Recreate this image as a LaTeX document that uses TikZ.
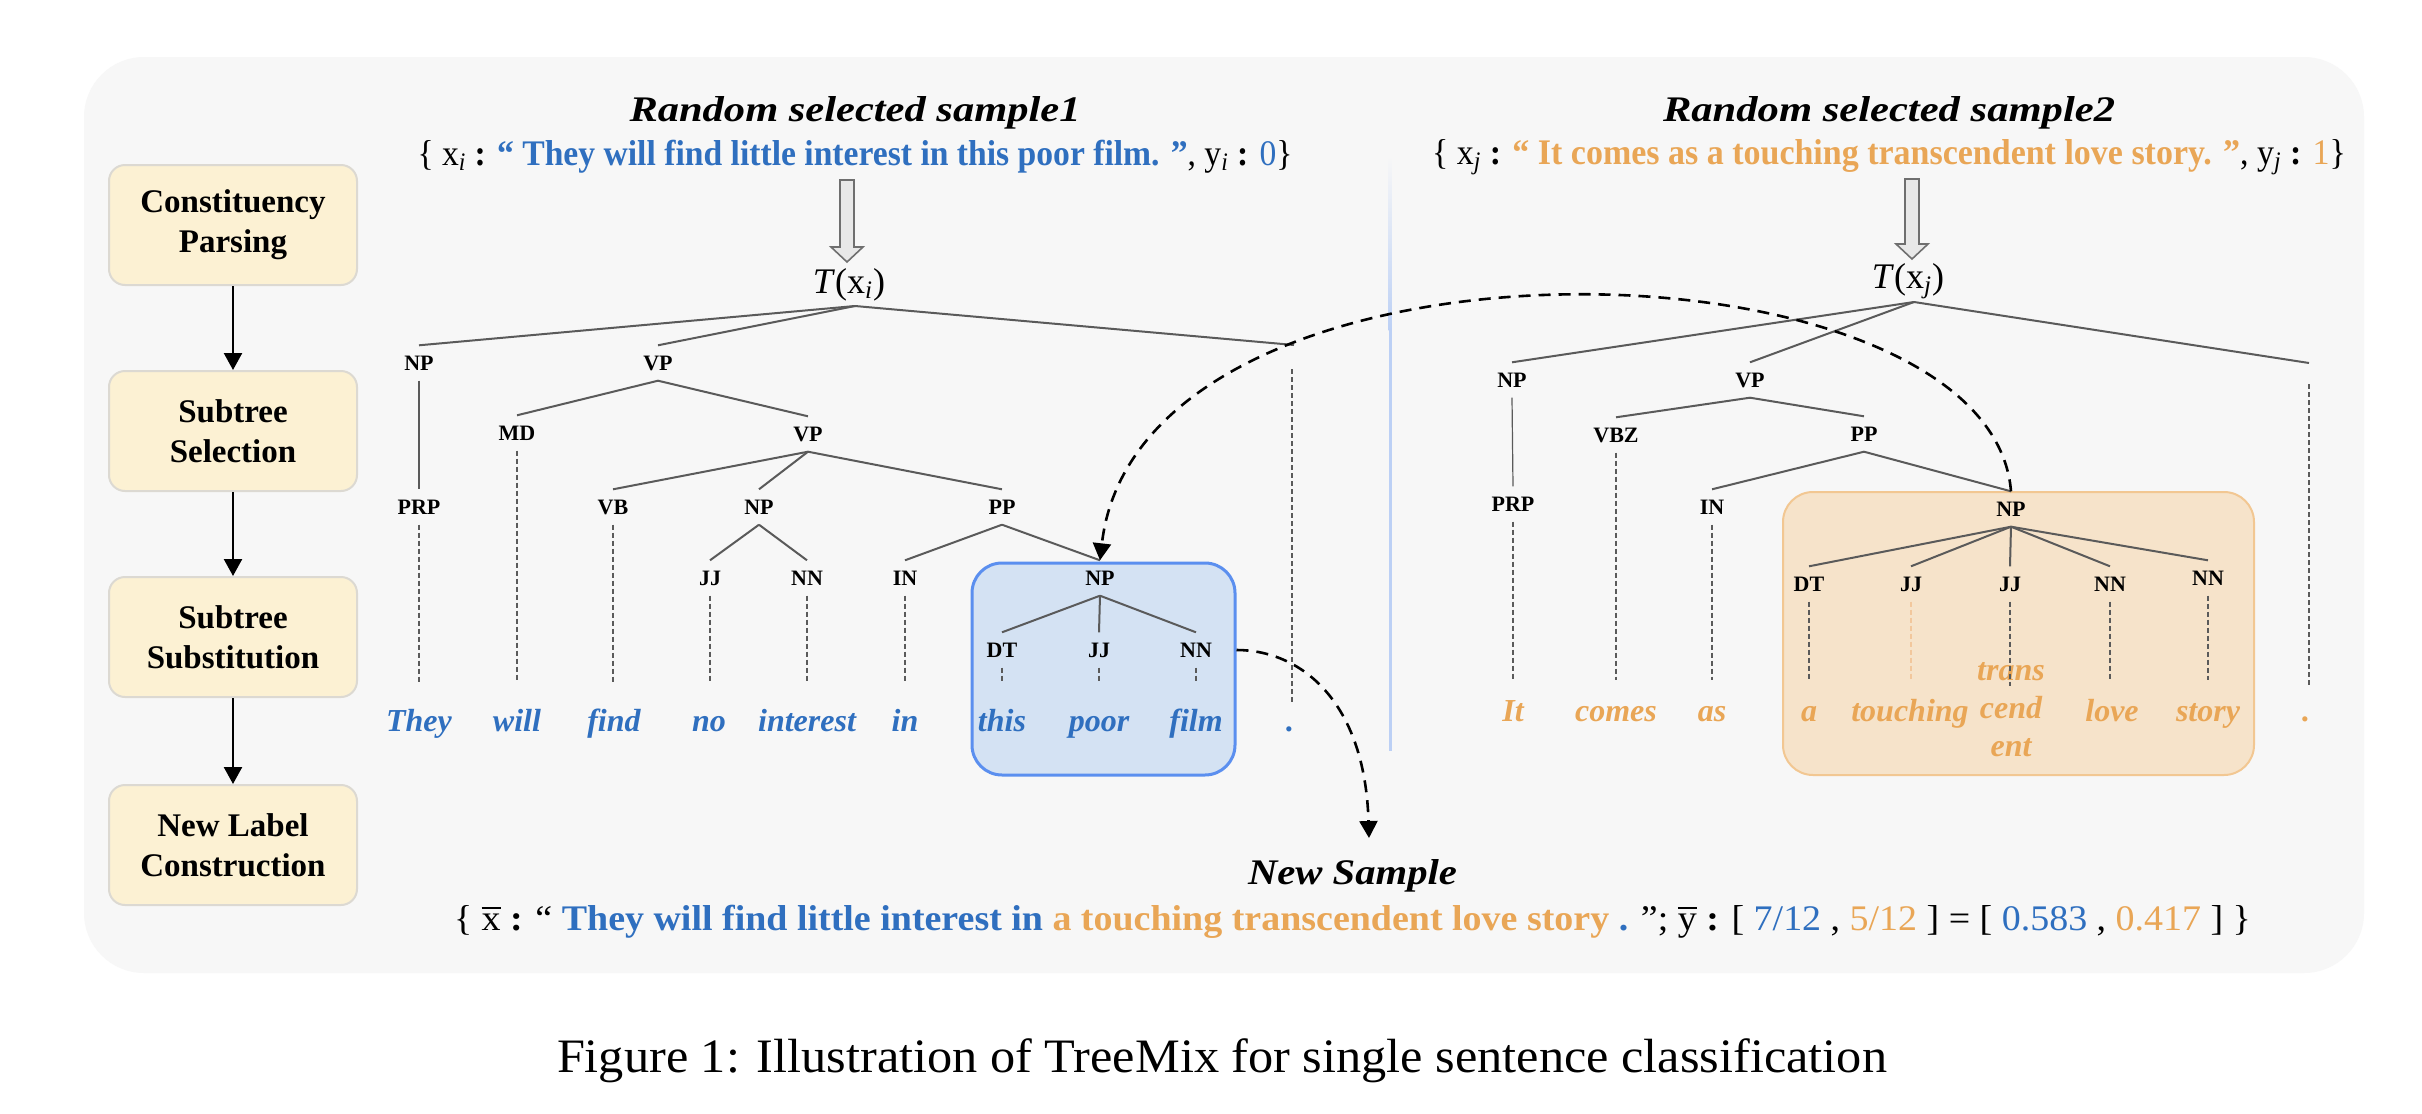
\documentclass[tikz,border=0pt]{standalone}
\usepackage{fontspec}
\setmainfont{Liberation Serif}
\usetikzlibrary{arrows.meta}
\definecolor{bgc}{HTML}{F7F7F7}
\definecolor{boxfill}{HTML}{FCF1D3}
\definecolor{boxbd}{HTML}{DCD9D2}
\definecolor{bluec}{HTML}{2F6FBF}
\definecolor{orangec}{HTML}{E9A656}
\definecolor{bboxfill}{HTML}{D4E2F3}
\definecolor{bboxbd}{HTML}{5B8FEF}
\definecolor{oboxfill}{HTML}{F6E3CA}
\definecolor{oboxbd}{HTML}{F2C792}
\definecolor{treec}{HTML}{5A5A5A}
\definecolor{divc}{HTML}{BCD0F5}
\definecolor{faintor}{HTML}{F2C79C}
\definecolor{harfill}{HTML}{E8E8E8}
\definecolor{hardraw}{HTML}{6F6F6F}
\newlength\fitlen
\newcommand{\fitw}[2]{\settowidth{\fitlen}{#2}\pgfmathsetmacro\fitfac{#1/\fitlen}\scalebox{\fitfac}[1]{#2}}
\newcommand{\barc}[1]{\setbox0\hbox{#1}\vbox{\hrule height 0.055em width \wd0\kern 0.12em\box0}}
\tikzset{
  stepbox/.style={draw=boxbd, fill=boxfill, line width=1pt, rounded corners=8pt,
    minimum width=124pt, minimum height=60pt, inner sep=0pt, align=center,
    font=\fontsize{16.5}{20}\selectfont\bfseries},
  flow/.style={draw=black, line width=1.2pt, -{Triangle[length=8.5pt,width=9pt]}},
  ttl/.style={anchor=base, inner sep=0pt, font=\fontsize{18}{21}\selectfont\bfseries\itshape},
  smp/.style={anchor=base, inner sep=0pt, font=\fontsize{18}{21}\selectfont},
  lbl/.style={font=\fontsize{11}{13}\selectfont\bfseries, text height=7.3pt, text depth=0pt,
    inner xsep=1pt, inner ysep=5pt, anchor=center},
  wone/.style={font=\fontsize{16}{19.2}\selectfont\bfseries\itshape, text=bluec, anchor=base,
    text height=11pt, text depth=0pt, inner ysep=13pt, inner xsep=0pt},
  wtwo/.style={wone, text=orangec, inner ysep=9.5pt},
  dotone/.style={wone, text height=3pt, inner ysep=11pt},
  dottwo/.style={wtwo, text height=3pt, inner ysep=14.5pt},
  tline/.style={draw=treec, line width=1pt},
  tthin/.style={draw=treec, line width=0.6pt},
  dline/.style={draw=treec, line width=0.75pt, dash pattern=on 2.5pt off 1.5pt},
  dfaint/.style={dline, draw=faintor},
  dcurve/.style={draw=black, line width=1.3pt, dash pattern=on 6pt off 4pt,
    -{Triangle[length=8.5pt,width=9pt]}},
  harrow/.style={draw=hardraw, fill=harfill, line width=0.8pt, line join=miter},
  bbox/.style={draw=bboxbd, fill=bboxfill, line width=1.5pt, rounded corners=15pt,
    minimum width=131.5pt, minimum height=106pt, inner sep=0pt},
  obox/.style={draw=oboxbd, fill=oboxfill, line width=1pt, rounded corners=15pt,
    minimum width=235.5pt, minimum height=141.5pt, inner sep=0pt},
}
\begin{document}
\begin{tikzpicture}[x=0.5pt,y=-0.5pt]
\useasboundingbox (0,0) rectangle (2422,1114);
\fill[white] (0,0) rectangle (2422,1114);
\fill[bgc, rounded corners=30pt] (84,57) rectangle (2364,973);

% divider
\shade[top color=bgc, bottom color=divc] (1388.5,156) rectangle (1391.5,330);
\fill[divc] (1388.5,330) rectangle (1391.5,751);

% left pipeline
\node[stepbox] (s1) at (233,225) {Constituency\\Parsing};
\node[stepbox] (s2) at (233,431) {Subtree\\Selection};
\node[stepbox] (s3) at (233,637) {Subtree\\Substitution};
\node[stepbox] (s4) at (233,845) {New Label\\Construction};
\draw[flow] (s1) -- (s2);
\draw[flow] (s2) -- (s3);
\draw[flow] (s3) -- (s4);

% highlight boxes
\node[bbox] (bluebox) at (1103.5,669) {};
\node[obox] (orbox) at (2018.5,633.5) {};

% titles and samples
\node[ttl] (ti1) at (855,121) {\fitw{225.5pt}{Random selected sample1}};
\node[smp] (x1) at (855,165) {\fitw{437.5pt}{\{ x\textsubscript{\textit{i}} \textbf{:} \textcolor{bluec}{\textbf{“ They will find little interest in this poor film. ”}}, y\textsubscript{\textit{i}} \textbf{:} \textcolor{bluec}{0}\}}};
\node[ttl] (ti2) at (1889,121) {\fitw{226pt}{Random selected sample2}};
\node[smp] (x2) at (1889,164) {\fitw{457pt}{\{ x\textsubscript{\textit{j}} \textbf{:} \textcolor{orangec}{\textbf{“ It comes as a touching transcendent love story. ”}}, y\textsubscript{\textit{j}} \textbf{:} \textcolor{orangec}{1}\}}};

% hollow arrows
\draw[harrow] (840,180) -- (854,180) -- (854,247) -- (863,247) -- (847,262) -- (831,247) -- (840,247) -- cycle;
\draw[harrow] (1905,179) -- (1919,179) -- (1919,244) -- (1928,244) -- (1912,259) -- (1896,244) -- (1905,244) -- cycle;

\node[smp] (T1) at (849,293) {\textit{T}(x\textsubscript{\textit{i}})};
\node[smp] (T2) at (1908,288) {\textit{T}(x\textsubscript{\textit{j}})};

% ---------- tree 1
\coordinate (r1) at (855,306);
\coordinate (d1a) at (1294,345);
\coordinate (d1b) at (1292,369);
\node[lbl] (a1) at (419,363) {NP};
\node[lbl] (a2) at (658,363) {VP};
\node[lbl] (a3) at (517,433) {MD};
\node[lbl] (a4) at (808,434) {VP};
\node[lbl] (a5) at (419,507) {PRP};
\node[lbl] (a6) at (613,507) {VB};
\node[lbl] (a7) at (759,507) {NP};
\node[lbl] (a8) at (1002,507) {PP};
\node[lbl] (a9) at (710,578) {JJ};
\node[lbl] (a10) at (807,578) {NN};
\node[lbl] (a11) at (905,578) {IN};
\node[lbl] (a12) at (1100,578) {NP};
\node[lbl] (a13) at (1002,650) {DT};
\node[lbl] (a14) at (1099,650) {JJ};
\node[lbl] (a15) at (1196,650) {NN};

\node[wone] (w1) at (419,731) {They};
\node[wone] (w2) at (517,731) {will};
\node[wone] (w3) at (614,731) {find};
\node[wone] (w4) at (709,731) {no};
\node[wone] (w5) at (807,731) {interest};
\node[wone] (w6) at (905,731) {in};
\node[wone] (w7) at (1002,731) {this};
\node[wone] (w8) at (1099,731) {poor};
\node[wone] (w9) at (1196,731) {film};
\node[dotone] (w10) at (1290,731) {.};

\draw[tline] (r1) -- (a1.north);
\draw[tline] (r1) -- (a2.north);
\draw[tline] (r1) -- (d1a);
\draw[tthin] (a1.south) -- (a5.north);
\draw[tline] (a2.south) -- (a3.north);
\draw[tline] (a2.south) -- (a4.north);
\draw[tline] (a4.south) -- (a6.north);
\draw[tline] (a4.south) -- (a7.north);
\draw[tline] (a4.south) -- (a8.north);
\draw[tline] (a7.south) -- (a9.north);
\draw[tline] (a7.south) -- (a10.north);
\draw[tline] (a8.south) -- (a11.north);
\draw[tline] (a8.south) -- (a12.north);
\draw[tline] (a12.south) -- (a13.north);
\draw[tline] (a12.south) -- (a14.north);
\draw[tline] (a12.south) -- (a15.north);
\draw[dline] (a5.south) -- (a5.south |- w1.north);
\draw[dline] (a3.south) -- (a3.south |- w2.north);
\draw[dline] (a6.south) -- (a6.south |- w3.north);
\draw[dline] (a9.south) -- (a9.south |- w4.north);
\draw[dline] (a10.south) -- (a10.south |- w5.north);
\draw[dline] (a11.south) -- (a11.south |- w6.north);
\draw[dline] (a13.south) -- (a13.south |- w7.north);
\draw[dline] (a14.south) -- (a14.south |- w8.north);
\draw[dline] (a15.south) -- (a15.south |- w9.north);
\draw[dline] (d1b) -- (d1b |- w10.north);

% ---------- tree 2
\coordinate (r2) at (1914,302);
\coordinate (d2a) at (2309,363);
\coordinate (d2b) at (2309,384);
\node[lbl] (b1) at (1512,380) {NP};
\node[lbl] (b2) at (1750,380) {VP};
\node[lbl] (b3) at (1616,435) {VBZ};
\node[lbl] (b4) at (1864,434) {PP};
\node[lbl] (b5) at (1513,504) {PRP};
\node[lbl] (b6) at (1712,507) {IN};
\node[lbl] (b7) at (2011,509) {NP};
\node[lbl] (b8) at (1809,584) {DT};
\node[lbl] (b9) at (1911,584) {JJ};
\node[lbl] (b10) at (2010,584) {JJ};
\node[lbl] (b11) at (2110,584) {NN};
\node[lbl] (b12) at (2208,578) {NN};

\node[wtwo] (v1) at (1513,721) {It};
\node[wtwo] (v2) at (1616,721) {comes};
\node[wtwo] (v3) at (1712,721) {as};
\node[wtwo] (v4) at (1809,721) {a};
\node[wtwo] (v5) at (1910,721) {touching};
\node[wtwo, align=center] (v6) at (2011,680) {\begin{tabular}[t]{@{}c@{}}trans\\cend\\ent\end{tabular}};
\node[wtwo] (v7) at (2112,721) {love};
\node[wtwo] (v8) at (2208,721) {story};
\node[dottwo] (v9) at (2306,721) {.};
\coordinate (j3end) at (2010,686);

\draw[tline] (r2) -- (b1.north);
\draw[tline] (r2) -- (b2.north);
\draw[tline] (r2) -- (d2a);
\draw[tthin] (b1.south) -- (b5.north);
\draw[tline] (b2.south) -- (b3.north);
\draw[tline] (b2.south) -- (b4.north);
\draw[tline] (b4.south) -- (b6.north);
\draw[tline] (b4.south) -- (b7.north);
\draw[tline] (b7.south) -- (b8.north);
\draw[tline] (b7.south) -- (b9.north);
\draw[tline] (b7.south) -- (b10.north);
\draw[tline] (b7.south) -- (b11.north);
\draw[tline] (b7.south) -- (b12.north);
\draw[dline] (b5.south) -- (b5.south |- v1.north);
\draw[dline] (b3.south) -- (b3.south |- v2.north);
\draw[dline] (b6.south) -- (b6.south |- v3.north);
\draw[dline] (b8.south) -- (b8.south |- v4.north);
\draw[dfaint] (b9.south) -- (b9.south |- v5.north);
\draw[dline] (b10.south) -- (j3end);
\draw[dline] (b11.south) -- (b11.south |- v7.north);
\draw[dline] (b12.south) -- (b12.south |- v8.north);
\draw[dline] (d2b) -- (d2b |- v9.north);

% ---------- new sample
\node[ttl] (nst) at (1352.5,884) {\fitw{104.5pt}{New Sample}};
\node[smp] (ns) at (1352.5,930) {\fitw{898.5pt}{\{ \barc{x} \textbf{:} “ \textcolor{bluec}{\textbf{They will find little interest in}} \textcolor{orangec}{\textbf{a touching transcendent love story}} \textcolor{bluec}{\textbf{.}} ”; \barc{y} \textbf{:} [ \textcolor{bluec}{7/12} , \textcolor{orangec}{5/12} ] = [ \textcolor{bluec}{0.583} , \textcolor{orangec}{0.417} ] \}}};
\coordinate (nsin) at (1369,838);

% substitution arrows
\draw[dcurve] (b7.north) .. controls (1990,230) and (1140,210) .. (a12.north);
\draw[dcurve] (bluebox.east |- a15) .. controls (1300,650) and (1365,700) .. (nsin);

% caption
\node[anchor=base, inner sep=0pt, font=\fontsize{24}{28}\selectfont] (cap) at (1222,1072) {\fitw{665pt}{Figure 1: Illustration of TreeMix for single sentence classification}};
\end{tikzpicture}
\end{document}
